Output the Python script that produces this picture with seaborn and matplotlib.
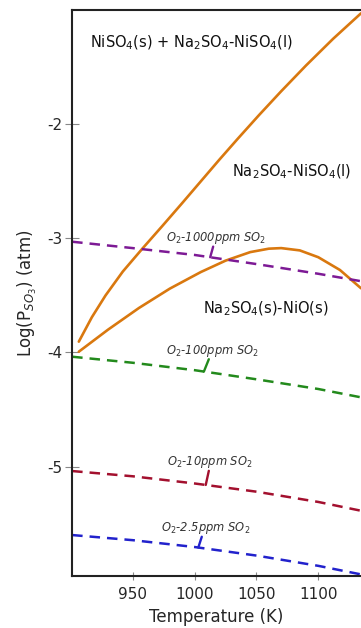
import numpy as np
import pandas as pd
import matplotlib
matplotlib.use("Agg")
import matplotlib.pyplot as plt
import seaborn as sns

# ---- data ----
T_upper = [906.4, 917, 928, 942, 958, 974, 990, 1005, 1020, 1035, 1052, 1070,
           1090, 1112, 1134.5]
logP_upper = [-3.905, -3.69, -3.50, -3.29, -3.087, -2.89, -2.69, -2.50, -2.31,
              -2.125, -1.92, -1.71, -1.485, -1.25, -1.027]

T_lower = [906.4, 930, 955, 980, 1005, 1025, 1045, 1060, 1070, 1085, 1100,
           1117.5, 1134.5]
logP_lower = [-3.993, -3.80, -3.61, -3.44, -3.295, -3.195, -3.12, -3.09, -3.085,
              -3.105, -3.165, -3.277, -3.437]

T_gas = [901, 950, 1000, 1050, 1100, 1134.5]
logP_1000 = [-3.029, -3.085, -3.145, -3.225, -3.31, -3.375]
logP_100 = [-4.037, -4.09, -4.155, -4.235, -4.32, -4.393]
logP_10 = [-5.039, -5.085, -5.148, -5.22, -5.31, -5.387]
logP_2p5 = [-5.60, -5.645, -5.705, -5.78, -5.87, -5.945]

gas_labels = ["O$_2$-1000ppm SO$_2$", "O$_2$-100ppm SO$_2$",
              "O$_2$-10ppm SO$_2$", "O$_2$-2.5ppm SO$_2$"]
gas_label_T = [1017.5, 1014.5, 1012.0, 1009.0]
gas_label_y = [-2.997, -3.984, -4.962, -5.54]
leader_T = [(1012.6, 1015.0), (1007.5, 1011.5), (1009.0, 1011.5), (1003.0, 1005.8)]

region_labels = ["NiSO$_4$(s) + Na$_2$SO$_4$-NiSO$_4$(l)",
                 "Na$_2$SO$_4$-NiSO$_4$(l)",
                 "Na$_2$SO$_4$(s)-NiO(s)"]
region_T = [915.5, 1078.5, 1057.6]
region_y = [-1.287, -2.415, -3.62]

xticks = [950, 1000, 1050, 1100]
yticks = [-2, -3, -4, -5]

# ---- styling ----
sns.set_style("ticks")
plt.rcParams['font.family'] = ['DejaVu Sans']
plt.rcParams['mathtext.fontset'] = 'dejavusans'

orange = "#d9780f"
gas_colors = ["#7d1a95", "#238a1c", "#a3102e", "#2222cc"]

fig = plt.figure(figsize=(3.61, 6.28), dpi=100)
ax = fig.add_axes([72/361, 1-576/628, 1-72/361, (576-10)/628])

df_u = pd.DataFrame({"T": T_upper, "P": logP_upper})
df_l = pd.DataFrame({"T": T_lower, "P": logP_lower})
sns.lineplot(data=df_u, x="T", y="P", ax=ax, color=orange, lw=1.9, sort=False)
sns.lineplot(data=df_l, x="T", y="P", ax=ax, color=orange, lw=1.9, sort=False)

gas_series = [logP_1000, logP_100, logP_10, logP_2p5]
for vals, c, lab, lt, ly, (t0, t1) in zip(gas_series, gas_colors, gas_labels,
                                          gas_label_T, gas_label_y, leader_T):
    d = pd.DataFrame({"T": T_gas, "P": vals})
    sns.lineplot(data=d, x="T", y="P", ax=ax, color=c, lw=1.8,
                 dashes=False, linestyle=(0, (4.2, 2.8)))
    yc = np.interp(t0, T_gas, vals)
    ax.annotate("", xy=(t0, yc), xytext=(t1, ly - 0.075),
                arrowprops=dict(arrowstyle="-", color=c, lw=1.7,
                                shrinkA=0, shrinkB=0))
    ax.text(lt, ly, lab, color="#333333", fontsize=8.3, style="italic",
            ha="center", va="center")

for lab, t, y in zip(region_labels, region_T, region_y):
    ha = "left" if t < 950 else "center"
    ax.text(t, y, lab, fontsize=10.5, color="#111111", ha=ha, va="center")

ax.set_xlim(900.9, 1134.5)
ax.set_ylim(-5.959, -0.998)
ax.set_xticks(xticks)
ax.set_yticks(yticks)
ax.set_xticklabels([str(v) for v in xticks])
ax.set_yticklabels([str(v) for v in yticks])
ax.tick_params(axis="x", direction="inout", length=6, color="#888888",
               labelsize=11, pad=5)
ax.tick_params(axis="y", direction="inout", length=10, color="#888888",
               labelsize=11, pad=2)
ax.set_xlabel("Temperature (K)", fontsize=12, labelpad=4)
ax.set_ylabel("Log(P$_{SO_3}$) (atm)", fontsize=12, labelpad=6)
for s in ["left", "bottom", "top"]:
    ax.spines[s].set_color("#222222")
    ax.spines[s].set_linewidth(1.5)
ax.spines["right"].set_visible(False)
if ax.get_legend():
    ax.get_legend().remove()

fig.savefig("out.png", dpi=100)
